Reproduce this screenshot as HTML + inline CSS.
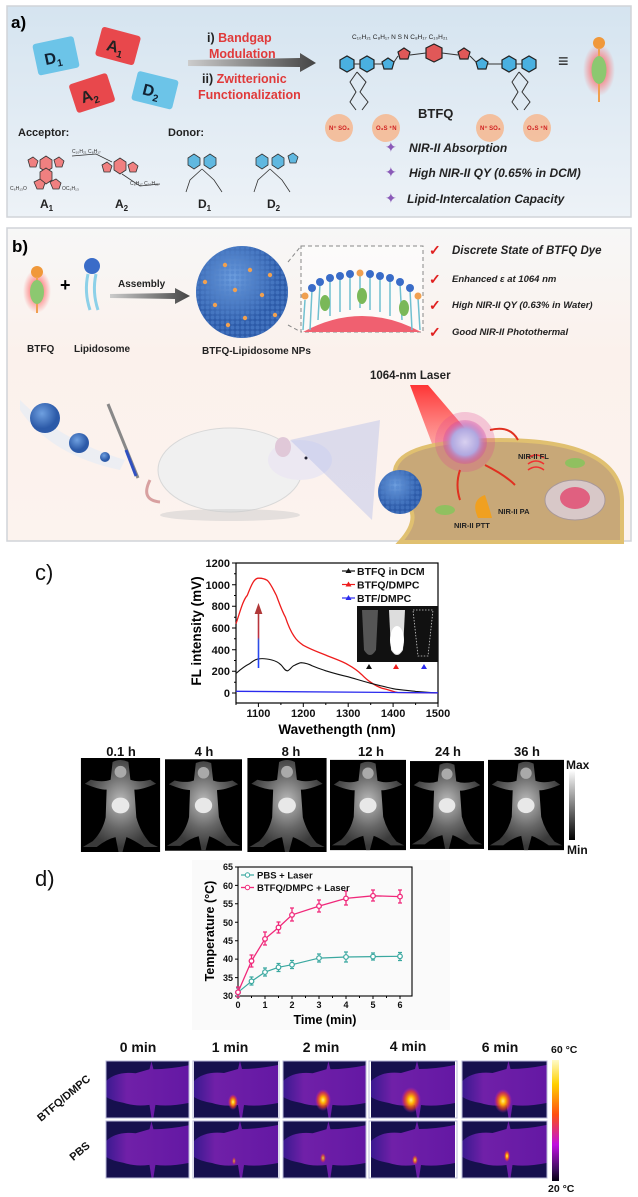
<!DOCTYPE html>
<html><head><meta charset="utf-8"><style>
html,body{margin:0;padding:0;background:#fff;}
svg{display:block;font-family:"Liberation Sans",Arial,sans-serif;}
</style></head><body>
<svg width="638" height="1197" viewBox="0 0 638 1197" xmlns="http://www.w3.org/2000/svg">
<defs>
<linearGradient id="bgA" x1="0" y1="0" x2="0" y2="1"><stop offset="0" stop-color="#d5e4f0"/><stop offset="1" stop-color="#edf2f7"/></linearGradient>
<linearGradient id="bgB" x1="0" y1="0" x2="0" y2="1"><stop offset="0" stop-color="#f7f7f7"/><stop offset="0.4" stop-color="#fbf1ec"/><stop offset="1" stop-color="#fcf3ee"/></linearGradient>
<linearGradient id="arr" x1="0" y1="0" x2="1" y2="0"><stop offset="0" stop-color="#ccc"/><stop offset="1" stop-color="#444"/></linearGradient>
<radialGradient id="glow"><stop offset="0.5" stop-color="#ff6060" stop-opacity="0.6"/><stop offset="1" stop-color="#ff6060" stop-opacity="0"/></radialGradient>
<radialGradient id="sph" cx="0.4" cy="0.35"><stop offset="0" stop-color="#6fa0e0"/><stop offset="1" stop-color="#2c5aa8"/></radialGradient>
<pattern id="dots" width="5" height="5" patternUnits="userSpaceOnUse"><circle cx="2.5" cy="2.5" r="2" fill="#4f82cc"/></pattern>
<linearGradient id="cone" x1="0" y1="0" x2="0" y2="1"><stop offset="0" stop-color="#ff2020" stop-opacity="0.9"/><stop offset="1" stop-color="#ff5050" stop-opacity="0.3"/></linearGradient>
<radialGradient id="cellsph"><stop offset="0" stop-color="#d8d0f0"/><stop offset="0.6" stop-color="#b0a8e0"/><stop offset="1" stop-color="#d040a0" stop-opacity="0.3"/></radialGradient>
<linearGradient id="upArr" x1="0" y1="1" x2="0" y2="0"><stop offset="0" stop-color="#2040ff"/><stop offset="0.5" stop-color="#3050e0"/><stop offset="0.55" stop-color="#c03040"/><stop offset="1" stop-color="#b03838"/></linearGradient>
<linearGradient id="gray" x1="0" y1="0" x2="0" y2="1"><stop offset="0" stop-color="#fff"/><stop offset="1" stop-color="#000"/></linearGradient>
<linearGradient id="heat" x1="0" y1="0" x2="0" y2="1"><stop offset="0" stop-color="#fffbc8"/><stop offset="0.2" stop-color="#ffd000"/><stop offset="0.45" stop-color="#ff5010"/><stop offset="0.7" stop-color="#c010e0"/><stop offset="0.9" stop-color="#401060"/><stop offset="1" stop-color="#050010"/></linearGradient>
<radialGradient id="mouseG" cx="0.5" cy="0.45"><stop offset="0" stop-color="#bbb"/><stop offset="0.6" stop-color="#666"/><stop offset="1" stop-color="#3a3a3a"/></radialGradient>
<radialGradient id="hot"><stop offset="0" stop-color="#fff080"/><stop offset="0.3" stop-color="#ffb000"/><stop offset="0.7" stop-color="#ff4020" stop-opacity="0.6"/><stop offset="1" stop-color="#c020c0" stop-opacity="0"/></radialGradient>
<linearGradient id="tbody" x1="0" y1="0" x2="1" y2="0"><stop offset="0" stop-color="#3a1a90"/><stop offset="0.25" stop-color="#7020a8"/><stop offset="1" stop-color="#6418a4"/></linearGradient>
<symbol id="fmouse" viewBox="0 0 80 95">
<rect width="80" height="95" fill="#000"/>
<path d="M32 4 Q40 0 48 4 L50 22 Q58 25 70 22 L76 26 Q62 32 54 32 L56 60 Q60 75 70 86 L78 90 L64 90 Q52 82 46 80 L42 95 L38 95 L35 80 Q26 82 16 90 L2 90 L12 84 Q22 74 25 60 L26 32 Q18 32 4 26 L10 22 Q22 25 30 22 Z" fill="url(#mouseG)"/>
<ellipse cx="40" cy="48" rx="9" ry="8" fill="#e8e8e8"/>
<ellipse cx="40" cy="14" rx="6" ry="6" fill="#aaa"/>
</symbol>
<symbol id="tmouse" viewBox="0 0 84 57">
<rect width="84" height="57" fill="#16104e"/>
<path d="M0 20 Q10 10 30 12 L44 8 L46 0 L48 8 Q64 8 84 4 L84 42 Q64 46 50 44 L48 57 L46 57 L44 44 Q30 46 18 42 Q6 40 0 36 Z" fill="url(#tbody)" stroke="none"/>
</symbol>
</defs>

<!-- PANEL A -->
<rect x="7" y="6" width="624" height="211" fill="url(#bgA)" stroke="#d0d4d8" stroke-width="1.5"/>
<text x="11" y="28" font-size="17" font-weight="bold">a)</text>
<g font-weight="bold" font-size="16">
<g transform="rotate(-12 55 56)"><rect x="35" y="40" width="42" height="32" rx="3" fill="#6cc4e8"/><text x="44" y="63" fill="#123">D<tspan font-size="10" dy="4">1</tspan></text></g>
<g transform="rotate(15 118 46)"><rect x="98" y="31" width="40" height="30" rx="3" fill="#e8484c"/><text x="107" y="53" fill="#222">A<tspan font-size="10" dy="4">1</tspan></text></g>
<g transform="rotate(-18 92 93)"><rect x="72" y="78" width="40" height="30" rx="3" fill="#e8484c"/><text x="80" y="100" fill="#222">A<tspan font-size="10" dy="4">2</tspan></text></g>
<g transform="rotate(14 154 90)"><rect x="134" y="75" width="42" height="30" rx="3" fill="#6cc4e8"/><text x="143" y="97" fill="#123">D<tspan font-size="10" dy="4">2</tspan></text></g>
</g>
<polygon points="188,60 300,58 300,53 316,63 300,72 300,67 188,66" fill="url(#arr)"/>
<g font-size="12.5" font-weight="bold">
<text x="207" y="42"><tspan fill="#222">i) </tspan><tspan fill="#e03a3a">Bandgap</tspan></text>
<text x="209" y="58" fill="#e03a3a">Modulation</text>
<text x="202" y="83"><tspan fill="#222">ii) </tspan><tspan fill="#e03a3a">Zwitterionic</tspan></text>
<text x="198" y="99" fill="#e03a3a">Functionalization</text>
</g>
<g stroke="#222" stroke-width="1.2" fill="#4ab0e0">
<polygon points="340,60 347,56 354,60 354,68 347,72 340,68"/><polygon points="360,60 367,56 374,60 374,68 367,72 360,68"/>
<polygon points="502,60 509,56 516,60 516,68 509,72 502,68"/><polygon points="522,60 529,56 536,60 536,68 529,72 522,68"/>
<polygon points="382,62 388,58 394,62 392,69 384,69"/><polygon points="476,62 482,58 488,62 486,69 478,69"/>
<polygon points="398,52 404,48 410,52 408,59 400,59" fill="#e05858"/><polygon points="458,52 464,48 470,52 468,59 460,59" fill="#e05858"/>
<polygon points="426,48 434,44 442,48 442,58 434,62 426,58" fill="#e05858"/>
</g>
<g stroke="#333" stroke-width="1" fill="none">
<path d="M354 64 L360 64 M374 64 L382 64 M394 62 L398 56 M410 55 L426 53 M442 53 L458 55 M470 56 L476 62 M488 64 L502 64 M516 64 L522 64"/>
<path d="M357 72 L350 82 L356 92 L350 102 L356 110"/><path d="M357 72 L366 82 L360 92 L368 102 L362 110"/>
<path d="M519 72 L512 82 L518 92 L512 102 L518 110"/><path d="M519 72 L528 82 L522 92 L530 102 L524 110"/>
</g>
<g font-size="6.5" fill="#222"><text x="352" y="39">C₁₀H₂₁ C₈H₁₇ N S N C₈H₁₇ C₁₀H₂₁</text></g>
<g fill="#f6b890" opacity="0.85"><circle cx="339" cy="128" r="14"/><circle cx="386" cy="128" r="14"/><circle cx="490" cy="128" r="14"/><circle cx="537" cy="128" r="14"/></g>
<g font-size="6" fill="#d02020" font-weight="bold"><text x="329" y="130">N⁺ SO₃</text><text x="376" y="130">O₃S ⁺N</text><text x="480" y="130">N⁺ SO₃</text><text x="527" y="130">O₃S ⁺N</text></g>
<text x="418" y="118" font-size="13" font-weight="bold" fill="#222">BTFQ</text>
<text x="558" y="67" font-size="18" font-weight="bold" fill="#222">≡</text>
<ellipse cx="599" cy="70" rx="16" ry="26" fill="url(#glow)"/>
<circle cx="599" cy="43" r="6" fill="#f0983a"/><rect x="598" y="48" width="2" height="54" fill="#f0a050"/>
<ellipse cx="599" cy="70" rx="7.5" ry="14" fill="#8cc870"/>
<g font-size="11" font-weight="bold" fill="#222"><text x="18" y="136">Acceptor:</text><text x="168" y="136">Donor:</text></g>
<g stroke="#333" stroke-width="0.8" fill="#f08080">
<polygon points="40,160 46,156 52,160 52,168 46,172 40,168"/><polygon points="40,172 46,168 52,172 52,180 46,184 40,180"/>
<polygon points="28,160 33,157 38,161 36,167 30,167"/><polygon points="54,160 59,157 64,161 62,167 56,167"/>
<polygon points="34,182 40,179 45,183 43,189 37,189"/><polygon points="50,182 56,179 61,183 59,189 53,189"/>
<polygon points="114,162 120,158 126,162 126,170 120,174 114,170"/><polygon points="102,165 107,162 112,166 110,172 104,172"/><polygon points="128,165 133,162 138,166 136,172 130,172"/>
</g>
<g stroke="#333" stroke-width="0.8" fill="#60b8e0">
<polygon points="188,158 194,154 200,158 200,165 194,169 188,165"/><polygon points="204,158 210,154 216,158 216,165 210,169 204,165"/>
<polygon points="256,158 262,154 268,158 268,165 262,169 256,165"/><polygon points="272,158 278,154 284,158 284,165 278,169 272,165"/><polygon points="288,156 293,153 298,157 296,163 290,163"/>
</g>
<g stroke="#333" stroke-width="0.8" fill="none"><path d="M202 169 L190 180 L186 192 M202 169 L214 180 L222 192 M270 169 L258 180 L254 192 M270 169 L282 180 L290 192 M122 174 L140 186 L160 184 M112 162 L96 154 L72 156"/></g>
<g font-size="5" fill="#333"><text x="10" y="190">C₆H₁₃O</text><text x="62" y="190">OC₆H₁₃</text><text x="72" y="153">C₁₀H₂₁ C₈H₁₇</text><text x="130" y="185">C₈H₁₇ C₁₀H₂₁</text></g>
<g font-size="12" font-weight="bold" fill="#222"><text x="40" y="208">A<tspan font-size="8" dy="3">1</tspan></text><text x="115" y="208">A<tspan font-size="8" dy="3">2</tspan></text><text x="198" y="208">D<tspan font-size="8" dy="3">1</tspan></text><text x="267" y="208">D<tspan font-size="8" dy="3">2</tspan></text></g>
<g fill="#8a5ab8" font-size="14"><text x="385" y="152">✦</text><text x="385" y="177">✦</text><text x="385" y="203">✦</text></g>
<g font-size="12" font-weight="bold" font-style="italic" fill="#222"><text x="409" y="152">NIR-II Absorption</text><text x="409" y="177">High NIR-II QY (0.65% in DCM)</text><text x="407" y="203">Lipid-Intercalation Capacity</text></g>

<!-- PANEL B -->
<rect x="7" y="228" width="624" height="313" fill="url(#bgB)" stroke="#d0d4d8" stroke-width="1.5"/>
<text x="12" y="252" font-size="17" font-weight="bold">b)</text>
<ellipse cx="37" cy="291" rx="14" ry="22" fill="url(#glow)"/>
<circle cx="37" cy="272" r="6" fill="#f0983a"/><rect x="36" y="277" width="2" height="36" fill="#f0a050"/>
<ellipse cx="37" cy="292" rx="7" ry="12" fill="#8cc870"/>
<text x="60" y="291" font-size="18" font-weight="bold">+</text>
<circle cx="92" cy="266" r="8" fill="#3a6cc8"/>
<path d="M88 274 Q84 292 90 310 M96 274 Q92 292 98 310" stroke="#8cd0e8" stroke-width="3" fill="none"/>
<text x="118" y="287" font-size="10" font-weight="bold" fill="#222">Assembly</text>
<polygon points="110,294 175,293 175,288 190,296 175,304 175,299 110,298" fill="url(#arr)"/>
<circle cx="242" cy="292" r="46" fill="url(#sph)"/>
<circle cx="242" cy="292" r="46" fill="url(#dots)" opacity="0.6"/>
<g fill="#f0a050"><circle cx="225" cy="265" r="2.2"/><circle cx="250" cy="270" r="2.2"/><circle cx="235" cy="290" r="2.2"/><circle cx="262" cy="295" r="2.2"/><circle cx="215" cy="305" r="2.2"/><circle cx="245" cy="318" r="2.2"/><circle cx="270" cy="275" r="2.2"/><circle cx="228" cy="325" r="2.2"/><circle cx="205" cy="282" r="2.2"/><circle cx="275" cy="315" r="2.2"/></g>
<rect x="301" y="246" width="122" height="86" fill="#fff" fill-opacity="0.5" stroke="#888" stroke-dasharray="4,3"/>
<path d="M288 262 L301 246 M288 325 L301 332" stroke="#888" stroke-dasharray="4,3"/>
<path d="M303 332 Q362 300 421 332 Z" fill="#f06070"/>
<g stroke="#70c0d0" stroke-width="1.5" fill="none"><path d="M305 300 L303 330 M312 290 L310 330 M320 284 L318 320 M330 280 L330 316 M340 278 L340 312 M350 276 L350 310 M360 276 L360 308 M370 276 L370 310 M380 278 L380 312 M390 280 L390 316 M400 284 L402 320 M410 290 L412 330 M418 298 L420 330"/></g>
<g fill="#3a6cc8"><circle cx="312" cy="288" r="4"/><circle cx="320" cy="282" r="4"/><circle cx="330" cy="278" r="4"/><circle cx="340" cy="276" r="4"/><circle cx="350" cy="274" r="4"/><circle cx="370" cy="274" r="4"/><circle cx="380" cy="276" r="4"/><circle cx="390" cy="278" r="4"/><circle cx="400" cy="282" r="4"/><circle cx="410" cy="288" r="4"/></g>
<g fill="#f0a050"><circle cx="305" cy="296" r="3.5"/><circle cx="360" cy="273" r="3.5"/><circle cx="418" cy="296" r="3.5"/></g>
<g fill="#7ab858"><ellipse cx="325" cy="303" rx="5" ry="8"/><ellipse cx="362" cy="296" rx="5" ry="8"/><ellipse cx="404" cy="308" rx="5" ry="8"/></g>
<g font-size="10" font-weight="bold" fill="#222"><text x="27" y="352">BTFQ</text><text x="74" y="352">Lipidosome</text><text x="202" y="354">BTFQ-Lipidosome NPs</text></g>
<g fill="#e02020" font-size="14" font-weight="bold"><text x="429" y="255">✓</text><text x="429" y="284">✓</text><text x="429" y="310">✓</text><text x="429" y="337">✓</text></g>
<g font-weight="bold" font-style="italic" fill="#222"><text x="452" y="254" font-size="11.5">Discrete State of BTFQ Dye</text><text x="452" y="282" font-size="9.5">Enhanced ε at 1064 nm</text><text x="452" y="308" font-size="9.5">High NIR-II QY (0.63% in Water)</text><text x="452" y="335" font-size="9.5">Good NIR-II Photothermal</text></g>
<text x="370" y="379" font-size="11.5" font-weight="bold" fill="#222">1064-nm Laser</text>
<path d="M20 400 Q60 440 125 460 L120 470 Q50 455 20 410 Z" fill="#e8ecf4" opacity="0.8"/>
<circle cx="45" cy="418" r="15" fill="url(#sph)"/><circle cx="79" cy="443" r="10" fill="url(#sph)"/><circle cx="105" cy="457" r="5" fill="url(#sph)"/>
<path d="M108 404 L138 478" stroke="#888" stroke-width="3"/><path d="M126 450 L136 476" stroke="#3050c0" stroke-width="3"/>
<path d="M150 480 Q140 500 160 502" stroke="#d8a0a0" stroke-width="3" fill="none"/>
<ellipse cx="230" cy="470" rx="72" ry="42" fill="#f0f0f0" stroke="#d8d8d8"/>
<ellipse cx="300" cy="460" rx="32" ry="20" fill="#ece8f2"/>
<path d="M290 440 L380 420 L372 520 Z" fill="#b0b8e8" opacity="0.4"/>
<ellipse cx="283" cy="447" rx="8" ry="10" fill="#e0c8d8"/>
<circle cx="306" cy="458" r="1.5" fill="#223"/>
<ellipse cx="230" cy="515" rx="70" ry="6" fill="#ccc" opacity="0.5"/>
<polygon points="410,385 428,385 475,440 440,465" fill="url(#cone)"/>
<path d="M395 470 Q400 440 500 440 Q620 440 622 500 L622 542 L400 542 Q420 520 408 505 Q388 495 395 470 Z" fill="#c8a878" stroke="#e0c070" stroke-width="4"/>
<circle cx="465" cy="442" r="30" fill="#e04090" opacity="0.25"/>
<circle cx="465" cy="442" r="22" fill="url(#cellsph)"/>
<circle cx="400" cy="492" r="22" fill="url(#sph)"/><circle cx="400" cy="492" r="22" fill="url(#dots)" opacity="0.5"/>
<ellipse cx="575" cy="500" rx="30" ry="20" fill="#d8c8c8" stroke="#a89898"/><ellipse cx="575" cy="498" rx="15" ry="11" fill="#e06080"/>
<ellipse cx="575" cy="463" rx="10" ry="5" fill="#90c060"/><ellipse cx="445" cy="510" rx="10" ry="5" fill="#90c060"/>
<path d="M478 518 Q470 500 485 495 Q490 510 492 518 Z" fill="#f0a020"/>
<path d="M528 458 Q536 452 544 458 M528 464 Q536 458 544 464 M528 470 Q536 464 544 470" stroke="#f03030" stroke-width="1.5" fill="none"/>
<path d="M490 430 Q510 425 518 440 M485 465 Q505 475 515 485 M460 470 Q455 485 460 500" stroke="#e03020" stroke-width="2" fill="none"/>
<g font-size="7.5" font-weight="bold" fill="#222"><text x="518" y="459">NIR-II FL</text><text x="498" y="514">NIR-II PA</text><text x="454" y="528">NIR-II PTT</text></g>

<!-- PANEL C -->
<text x="35" y="580" font-size="22" fill="#111">c)</text>
<g stroke="#000" stroke-width="1.2" fill="none"><rect x="236" y="563" width="202" height="140"/></g>
<g stroke="#000" stroke-width="1">
<path d="M236 693 h-4 M236 671.3 h-4 M236 649.7 h-4 M236 628 h-4 M236 606.3 h-4 M236 584.7 h-4 M236 563 h-4"/>
<path d="M236 682.2 h-2 M236 660.5 h-2 M236 638.8 h-2 M236 617.2 h-2 M236 595.5 h-2 M236 573.8 h-2"/>
<path d="M258.4 703 v4 M303.3 703 v4 M348.2 703 v4 M393.1 703 v4 M438 703 v4 M280.9 703 v2 M325.8 703 v2 M370.7 703 v2 M415.6 703 v2 M236 703 v2"/>
</g>
<g font-size="11" font-weight="bold" text-anchor="end" fill="#111"><text x="230" y="697">0</text><text x="230" y="675">200</text><text x="230" y="654">400</text><text x="230" y="632">600</text><text x="230" y="610">800</text><text x="230" y="589">1000</text><text x="230" y="567">1200</text></g>
<g font-size="11" font-weight="bold" text-anchor="middle" fill="#111"><text x="258.4" y="717">1100</text><text x="303.3" y="717">1200</text><text x="348.2" y="717">1300</text><text x="393.1" y="717">1400</text><text x="438" y="717">1500</text></g>
<text x="337" y="734" font-size="13.5" font-weight="bold" text-anchor="middle">Wavethength (nm)</text>
<text transform="translate(201 631) rotate(-90)" font-size="13.5" font-weight="bold" text-anchor="middle">FL intensity (mV)</text>
<path d="M236,623.7 C240,612 243,600 247.2,595.5 C251,586 254,578 258.4,578.2 C262,578 265,579 267.4,580.4 C271,584 273,589 276.4,595.5 C280,605 282,611 285.4,617.2 C288,625 291,632 294.4,636.7 C297,641 300,643 303.3,645.3 C312,650 318,652 325.8,655.1 C335,659 342,661 348.2,664.8 C354,668 358,671 361.7,674.6 C365,678 367,680 370.7,682.2 C376,686 380,688 384.1,688.7 C390,690 394,692 397.6,692.5 L438,693" stroke="#ee1c1c" stroke-width="1.3" fill="none"/>
<path d="M236,673.5 C241,669 245,666 249.5,663.8 C253,661 256,659 258.4,658.9 C264,658 268,659 271.9,660 C276,661 278,662 280.9,664.8 C284,668 285,671 287.6,670.8 C290,670 292,666 294.4,665.4 C297,664 299,663 301.1,662.7 C305,663 309,664 312.3,665.9 C317,668 321,669 325.8,670.8 C333,673 340,675 348.2,676.8 C356,679 362,681 370.7,683.3 C378,685 385,687 393.1,688.7 C400,690 408,690.5 415.6,691.4 L438,693" stroke="#111" stroke-width="1.1" fill="none"/>
<path d="M236,691.3 L438,692.8" stroke="#2a2aee" stroke-width="1.3"/>
<rect x="257.7" y="612" width="1.6" height="56" fill="url(#upArr)"/>
<polygon points="254.6,614 258.5,603 262.4,614" fill="#b03838"/>
<g stroke-width="1.2"><path d="M342 571 h13" stroke="#111"/><path d="M342 584.5 h13" stroke="#ee1c1c"/><path d="M342 598 h13" stroke="#2a2aee"/></g>
<polygon points="345.5,573 348.5,568 351.5,573" fill="#111"/><polygon points="345.5,586.5 348.5,581.5 351.5,586.5" fill="#ee1c1c"/><polygon points="345.5,600 348.5,595 351.5,600" fill="#2a2aee"/>
<g font-size="10.5" font-weight="bold" fill="#111"><text x="357" y="575">BTFQ in DCM</text><text x="357" y="588.5">BTFQ/DMPC</text><text x="357" y="602">BTF/DMPC</text></g>
<rect x="357" y="606" width="81" height="56" fill="#111"/>
<path d="M362 610 L378 610 L376 650 Q370 660 364 650 Z" fill="#555"/>
<path d="M389 610 L405 610 L403 650 Q397 660 391 650 Z" fill="#ddd"/>
<ellipse cx="397" cy="640" rx="7" ry="14" fill="#fff"/>
<path d="M413 610 L433 610 L428 656 L418 656 Z" fill="none" stroke="#ccc" stroke-width="0.8" stroke-dasharray="1.5,1.5"/>
<polygon points="366,669 369,664 372,669" fill="#111"/><polygon points="393,669 396,664 399,669" fill="#ee1c1c"/><polygon points="421,669 424,664 427,669" fill="#2a2aee"/>
<g font-size="13" font-weight="bold" text-anchor="middle" fill="#111"><text x="121" y="756">0.1 h</text><text x="204" y="756">4 h</text><text x="291" y="756">8 h</text><text x="371" y="756">12 h</text><text x="448" y="756">24 h</text><text x="527" y="756">36 h</text></g>
<use href="#fmouse" x="80" y="758" width="81" height="94" preserveAspectRatio="none"/>
<use href="#fmouse" x="165" y="758" width="77" height="94" preserveAspectRatio="none"/>
<use href="#fmouse" x="247" y="758" width="80" height="94" preserveAspectRatio="none"/>
<use href="#fmouse" x="330" y="758" width="76" height="94" preserveAspectRatio="none"/>
<use href="#fmouse" x="410" y="758" width="74" height="94" preserveAspectRatio="none"/>
<use href="#fmouse" x="488" y="758" width="76" height="94" preserveAspectRatio="none"/>
<rect x="569" y="770" width="6" height="70" fill="url(#gray)"/>
<g font-size="12" font-weight="bold" fill="#111"><text x="566" y="769">Max</text><text x="567" y="854">Min</text></g>

<!-- PANEL D -->
<rect x="192" y="860" width="258" height="170" fill="#fafafa"/>
<text x="35" y="886" font-size="22" fill="#111">d)</text>
<rect x="238" y="867" width="174" height="129" fill="none" stroke="#000" stroke-width="1.1"/>
<g stroke="#000" stroke-width="1">
<path d="M238 996 h-3 M238 977.6 h-3 M238 959.1 h-3 M238 940.7 h-3 M238 922.3 h-3 M238 903.8 h-3 M238 885.4 h-3 M238 867 h-3"/>
<path d="M238 996 v3 M265 996 v3 M292 996 v3 M319 996 v3 M346 996 v3 M373 996 v3 M400 996 v3 M251.5 996 v2 M278.5 996 v2 M305.5 996 v2 M332.5 996 v2 M359.5 996 v2 M386.5 996 v2"/>
</g>
<g font-size="9" font-weight="bold" text-anchor="end" fill="#111"><text x="233" y="999">30</text><text x="233" y="981">35</text><text x="233" y="962">40</text><text x="233" y="944">45</text><text x="233" y="926">50</text><text x="233" y="907">55</text><text x="233" y="889">60</text><text x="233" y="870">65</text></g>
<g font-size="9" font-weight="bold" text-anchor="middle" fill="#111"><text x="238" y="1008">0</text><text x="265" y="1008">1</text><text x="292" y="1008">2</text><text x="319" y="1008">3</text><text x="346" y="1008">4</text><text x="373" y="1008">5</text><text x="400" y="1008">6</text></g>
<text x="325" y="1024" font-size="12.5" font-weight="bold" text-anchor="middle">Time (min)</text>
<text transform="translate(214 931) rotate(-90)" font-size="12.5" font-weight="bold" text-anchor="middle">Temperature (°C)</text>
<g stroke="#3aa8a0" stroke-width="1.2" fill="none">
<polyline points="238,992.3 251.5,981.3 265,972.1 278.5,967.3 292,964.7 319,958.1 346,957 373,956.6 400,956.3"/>
<path d="M238 988v8 M251.5 977v8 M265 968v8 M278.5 963.5v8 M292 960.5v8 M319 954v8 M346 952v10 M373 953v7 M400 952.5v8 M236 988h4M236 996h4 M249.5 977h4M249.5 985h4 M263 968h4M263 976h4 M276.5 963.5h4M276.5 971.5h4 M290 960.5h4M290 968.5h4 M317 954h4M317 962h4 M344 952h4M344 962h4 M371 953h4M371 960h4 M398 952.5h4M398 960.5h4"/>
</g>
<g fill="#fff" stroke="#3aa8a0" stroke-width="1.2"><circle cx="238" cy="992.3" r="2.3"/><circle cx="251.5" cy="981.3" r="2.3"/><circle cx="265" cy="972.1" r="2.3"/><circle cx="278.5" cy="967.3" r="2.3"/><circle cx="292" cy="964.7" r="2.3"/><circle cx="319" cy="958.1" r="2.3"/><circle cx="346" cy="957" r="2.3"/><circle cx="373" cy="956.6" r="2.3"/><circle cx="400" cy="956.3" r="2.3"/></g>
<g stroke="#f0287a" stroke-width="1.3" fill="none">
<polyline points="238,992.3 251.5,961 265,938.9 278.5,927.5 292,914.9 319,906.1 346,898.4 373,895.8 400,896.6"/>
<path d="M238 987v10 M251.5 955v12 M265 932v13 M278.5 922v11 M292 908v13 M319 900v12 M346 891v14 M373 890v11 M400 890v13 M236 987h4M236 997h4 M249.5 955h4M249.5 967h4 M263 932h4M263 945h4 M276.5 922h4M276.5 933h4 M290 908h4M290 921h4 M317 900h4M317 912h4 M344 891h4M344 905h4 M371 890h4M371 901h4 M398 890h4M398 903h4"/>
</g>
<g fill="#fff" stroke="#f0287a" stroke-width="1.3"><circle cx="238" cy="992.3" r="2.3"/><circle cx="251.5" cy="961" r="2.3"/><circle cx="265" cy="938.9" r="2.3"/><circle cx="278.5" cy="927.5" r="2.3"/><circle cx="292" cy="914.9" r="2.3"/><circle cx="319" cy="906.1" r="2.3"/><circle cx="346" cy="898.4" r="2.3"/><circle cx="373" cy="895.8" r="2.3"/><circle cx="400" cy="896.6" r="2.3"/></g>
<path d="M241 875 h13" stroke="#3aa8a0" stroke-width="1.2"/><circle cx="247.5" cy="875" r="2.2" fill="#fff" stroke="#3aa8a0"/>
<path d="M241 887.5 h13" stroke="#f0287a" stroke-width="1.3"/><circle cx="247.5" cy="887.5" r="2.2" fill="#fff" stroke="#f0287a"/>
<g font-size="9.5" font-weight="bold" fill="#111"><text x="257" y="878.5">PBS + Laser</text><text x="257" y="891">BTFQ/DMPC + Laser</text></g>

<g font-size="14" font-weight="bold" text-anchor="middle" fill="#111"><text x="138" y="1052">0 min</text><text x="230" y="1052">1 min</text><text x="321" y="1052">2 min</text><text x="408" y="1051">4 min</text><text x="500" y="1052">6 min</text></g>
<g font-size="10.5" font-weight="bold" fill="#111"><text x="551" y="1053">60 °C</text><text x="548" y="1192">20 °C</text></g>
<g font-size="11" font-weight="bold" fill="#111" text-anchor="middle"><text transform="translate(66 1101) rotate(-40)">BTFQ/DMPC</text><text transform="translate(82 1154) rotate(-40)">PBS</text></g>
<use href="#tmouse" x="106" y="1061" width="83" height="57" preserveAspectRatio="none"/>
<use href="#tmouse" x="193" y="1061" width="86" height="57" preserveAspectRatio="none"/>
<use href="#tmouse" x="283" y="1061" width="83" height="57" preserveAspectRatio="none"/>
<use href="#tmouse" x="369" y="1061" width="88" height="57" preserveAspectRatio="none"/>
<use href="#tmouse" x="462" y="1061" width="85" height="57" preserveAspectRatio="none"/>
<use href="#tmouse" x="106" y="1121" width="83" height="57" preserveAspectRatio="none"/>
<use href="#tmouse" x="193" y="1121" width="86" height="57" preserveAspectRatio="none"/>
<use href="#tmouse" x="283" y="1121" width="83" height="57" preserveAspectRatio="none"/>
<use href="#tmouse" x="369" y="1121" width="88" height="57" preserveAspectRatio="none"/>
<use href="#tmouse" x="462" y="1121" width="85" height="57" preserveAspectRatio="none"/>
<g fill="none" stroke="#b8b8d8" stroke-width="1">
<rect x="106" y="1061" width="83" height="57"/><rect x="193" y="1061" width="86" height="57"/><rect x="283" y="1061" width="83" height="57"/><rect x="369" y="1061" width="88" height="57"/><rect x="462" y="1061" width="85" height="57"/>
<rect x="106" y="1121" width="83" height="57"/><rect x="193" y="1121" width="86" height="57"/><rect x="283" y="1121" width="83" height="57"/><rect x="369" y="1121" width="88" height="57"/><rect x="462" y="1121" width="85" height="57"/>
</g>
<ellipse cx="233" cy="1102" rx="5" ry="8" fill="url(#hot)"/>
<ellipse cx="323" cy="1100" rx="8" ry="11" fill="url(#hot)"/>
<ellipse cx="411" cy="1100" rx="10" ry="13" fill="url(#hot)"/>
<ellipse cx="503" cy="1101" rx="9" ry="12" fill="url(#hot)"/>
<ellipse cx="234" cy="1161" rx="2" ry="4" fill="url(#hot)" opacity="0.6"/>
<ellipse cx="323" cy="1158" rx="3" ry="5" fill="url(#hot)" opacity="0.7"/>
<ellipse cx="415" cy="1160" rx="3" ry="5" fill="url(#hot)" opacity="0.8"/>
<ellipse cx="507" cy="1156" rx="3" ry="6" fill="url(#hot)"/>
<rect x="552" y="1060" width="7" height="121" fill="url(#heat)"/>
</svg>
</body></html>
